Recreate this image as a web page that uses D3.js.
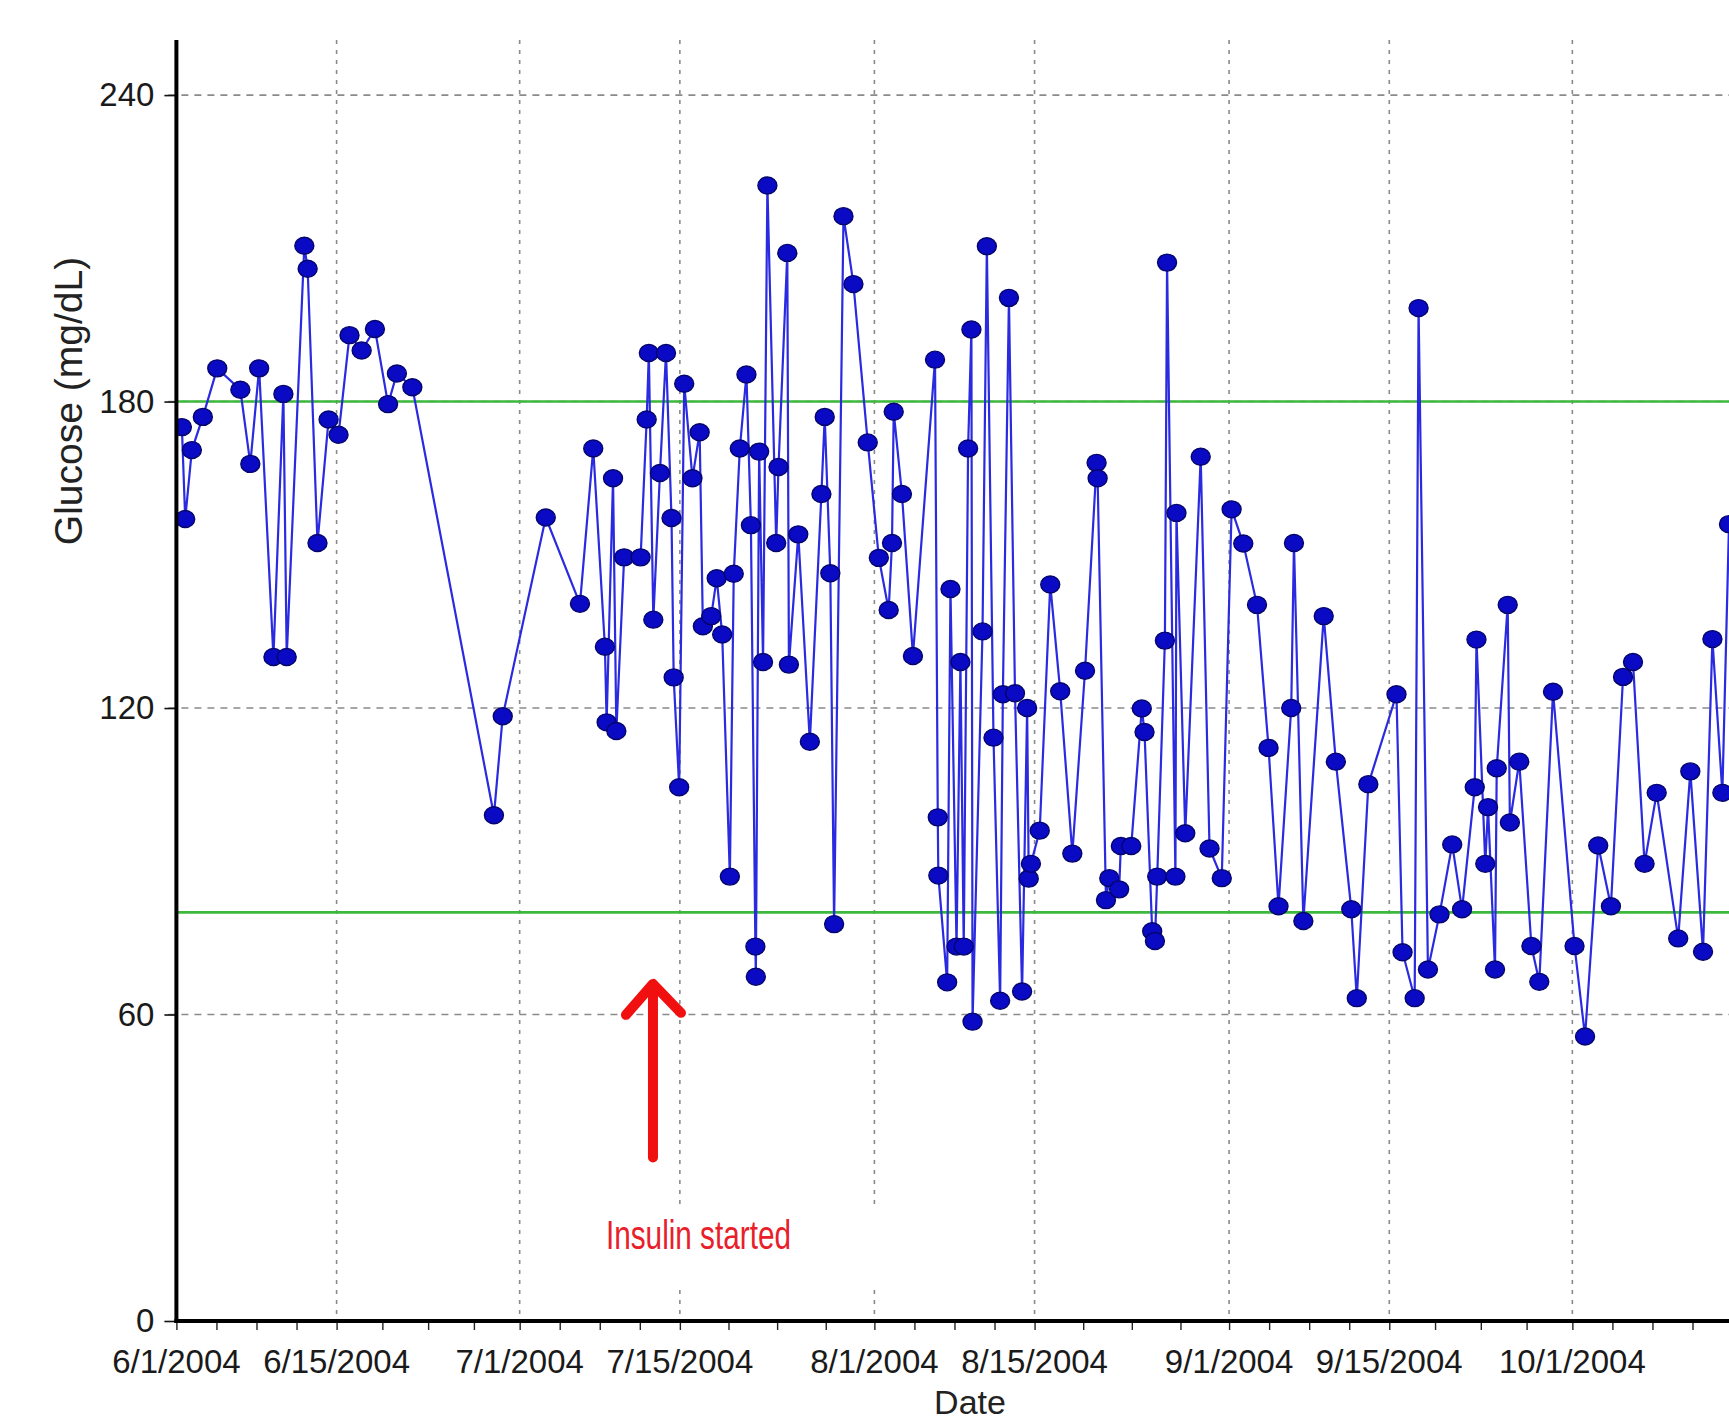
<!DOCTYPE html>
<html><head><meta charset="utf-8">
<script src="https://cdn.jsdelivr.net/npm/d3@7"></script>
<style>html,body{margin:0;padding:0;background:#fff;} svg{display:block;}</style>
</head><body>
<svg id="chart" width="1729" height="1423"></svg>
<script>
// ---- data ----
// reading times: days since 6/1/2004 00:00 (fractional = time of day)
const readingDay = [0.48,0.77,1.35,2.31,3.57,5.59,6.46,7.23,8.48,9.35,
9.64,11.18,11.47,12.33,13.3,14.17,15.13,16.19,17.35,18.5,
19.27,20.62,27.75,28.52,32.28,35.27,36.43,37.45,37.6,38.16,
38.45,39.13,40.57,41.1,41.29,41.68,42.26,42.79,43.27,43.46,
43.94,44.38,45.1,45.73,46.01,46.74,47.22,47.7,48.37,48.71,
49.24,49.82,50.21,50.6,50.64,50.93,51.27,51.65,52.42,52.62,
53.39,53.53,54.35,55.36,56.37,56.66,57.15,57.48,58.3,59.17,
60.42,61.39,62.25,62.54,62.69,63.41,64.37,66.3,66.54,66.59,
67.36,67.65,68.18,68.52,68.81,69.19,69.48,69.58,70.45,70.83,
71.41,71.99,72.23,72.76,73.29,73.91,74.35,74.49,74.68,75.45,
76.37,77.24,78.3,79.41,80.42,80.51,81.24,81.53,82.39,82.54,
83.45,84.37,84.61,85.28,85.52,85.72,86.39,86.58,87.31,87.4,
88.17,89.52,90.29,91.36,92.22,93.24,94.44,95.45,96.32,97.43,
97.67,98.49,100.27,101.33,102.68,103.16,104.17,106.63,107.16,108.22,
108.56,109.38,110.39,111.5,112.36,113.47,113.62,114.39,114.63,115.24,
115.39,116.35,116.54,117.36,118.42,119.11,120.31,122.19,123.11,124.26,
125.37,126.43,127.3,128.31,129.37,131.25,132.31,133.42,134.24,135.11,
135.69];
const glucose = [175,157,170.5,177,186.5,182.3,167.8,186.5,130,181.5,
130,210.5,206,152.3,176.5,173.5,193,190,194.2,179.5,
185.5,182.8,99,118.4,157.3,140.4,170.8,132,117.2,165,
115.5,149.5,149.5,176.5,189.5,137.3,166,189.5,157.2,126,
104.5,183.5,165,174,136,138,145.4,134.4,87,146.3,
170.8,185.3,155.8,73.3,67.4,170.2,129,222.3,152.3,167.2,
209.1,128.5,154,113.4,161.9,177,146.4,77.7,216.3,203,
172,149.4,139.2,152.3,178,161.9,130.2,188.2,98.6,87.2,
66.3,143.3,73.3,129,73.3,170.8,194.1,58.6,135,210.4,
114.2,62.7,122.7,200.3,122.9,64.5,120,86.6,89.5,96,
144.2,123.3,91.5,127.3,168,165,82.4,86.7,84.5,93,
93,119.9,115.3,76.3,74.4,87,133.2,207.2,87,158.2,
95.5,169.2,92.5,86.7,158.9,152.2,140.2,112.2,81.2,120,
152.3,78.3,138,109.5,80.6,63.2,105.1,122.7,72.2,63.2,
198.3,68.8,79.6,93.3,80.6,104.5,133.4,89.5,100.6,68.8,
108.2,140.2,97.6,109.5,73.4,66.4,123.2,73.4,55.7,93.1,
81.2,126.1,129,89.5,103.4,74.9,107.6,72.3,133.5,103.4,
156];
const xTickLabels = ["6/1/2004","6/15/2004","7/1/2004","7/15/2004","8/1/2004","8/15/2004","9/1/2004","9/15/2004","10/1/2004"];
const xTickDates = ["2004-06-01","2004-06-15","2004-07-01","2004-07-15","2004-08-01","2004-08-15","2004-09-01","2004-09-15","2004-10-01","2004-10-15"];
const xDomainDays = [0, 135.69];
const yTicks = [0, 60, 120, 180, 240];
const yDomain = [0, 250];
const targetRange = [80, 180];
const xTitle = "Date";
const yTitle = "Glucose (mg/dL)";
const annotationText = "Insulin started";
const annotationDay = 41.65;          // arrow position (7/12/2004)
const annotationArrow = [32, 66];     // glucose span of the arrow

// ---- setup ----
const DAY = 864e5;
const t0 = Date.UTC(2004, 5, 1);
const toDate = d => new Date(t0 + d * DAY);
const parse = s => new Date(s + "T00:00:00Z");

const svg = d3.select("#chart");
const L = 176.4, R = 1729, B = 1321, T = 44;
const x = d3.scaleUtc().domain(xDomainDays.map(toDate)).range([L, R]);
const y = d3.scaleLinear().domain(yDomain).range([B, T]);
const points = readingDay.map((d, i) => ({t: toDate(d), v: glucose[i]}));

svg.append("rect").attr("width", 1729).attr("height", 1423).attr("fill", "#fff");

const defs = svg.append("defs");
defs.append("clipPath").attr("id", "plotclip").append("rect")
  .attr("x", L).attr("y", 0).attr("width", R - L).attr("height", B);

// grid
const majorDates = xTickDates.map(parse);
const grid = svg.append("g");
grid.selectAll("line.h").data(yTicks.filter(v => v > 0)).join("line")
  .attr("x1", L - 8).attr("x2", R)
  .attr("y1", d => y(d)).attr("y2", d => y(d))
  .attr("stroke", "#8a8a8a").attr("stroke-width", 1.6).attr("stroke-dasharray", "7,6");
grid.selectAll("line.v").data(majorDates.slice(1).filter(d => x(d) <= R)).join("line")
  .attr("x1", d => x(d)).attr("x2", d => x(d))
  .attr("y1", 40).attr("y2", B)
  .attr("stroke", "#8a8a8a").attr("stroke-width", 1.6).attr("stroke-dasharray", "4,6");

// white label box behind annotation text
svg.append("rect")
  .attr("x", x(toDate(36.1))).attr("y", y(22.7))
  .attr("width", x(toDate(62.8)) - x(toDate(36.1)))
  .attr("height", y(6.5) - y(22.7))
  .attr("fill", "#fff");

// target range lines
svg.append("g").selectAll("line").data(targetRange).join("line")
  .attr("x1", L).attr("x2", R)
  .attr("y1", d => y(d)).attr("y2", d => y(d))
  .attr("stroke", "#3cb93c").attr("stroke-width", 2.6);

// data
const plot = svg.append("g").attr("clip-path", "url(#plotclip)");
plot.append("path").datum(points)
  .attr("d", d3.line().x(d => x(d.t)).y(d => y(d.v)))
  .attr("fill", "none").attr("stroke", "#2a2ae0").attr("stroke-width", 2.2);
plot.selectAll("ellipse").data(points).join("ellipse")
  .attr("cx", d => x(d.t)).attr("cy", d => y(d.v)).attr("rx", 9.5).attr("ry", 8.5)
  .attr("fill", "#0a0ac4").attr("stroke", "#05056a").attr("stroke-width", 1.4);

// axes
const font = "'Liberation Sans', Arial, Helvetica, sans-serif";
const yAxis = svg.append("g").attr("transform", `translate(${L},0)`)
  .call(d3.axisLeft(y).tickValues(yTicks).tickSize(12).tickPadding(10).tickFormat(d3.format("d")));
yAxis.select(".domain").remove();
yAxis.selectAll(".tick line").attr("stroke", "#111").attr("stroke-width", 1.6);
yAxis.selectAll(".tick text").attr("font-family", font).attr("font-size", 33).attr("fill", "#1a1a1a");

// minor + major ticks along x
const xt = [];
for (let i = 0; i < majorDates.length - 1; i++) {
  const a = +majorDates[i], b = +majorDates[i + 1];
  for (let q = 0; q < 4; q++) xt.push(new Date(a + (b - a) * q / 4));
}
const xAxis = svg.append("g").attr("transform", `translate(0,${B})`)
  .call(d3.axisBottom(x).tickValues(xt.filter(d => x(d) <= R + 0.5)).tickSize(9).tickFormat(""));
xAxis.select(".domain").remove();
xAxis.selectAll(".tick line").attr("stroke", "#222").attr("stroke-width", 1.4);

svg.append("g").selectAll("text").data(xTickLabels).join("text")
  .attr("x", (d, i) => x(majorDates[i])).attr("y", 1373)
  .attr("text-anchor", "middle").attr("font-family", font).attr("font-size", 33)
  .attr("fill", "#1a1a1a").text(d => d);

svg.append("line").attr("x1", L).attr("x2", L).attr("y1", 40).attr("y2", B + 2)
  .attr("stroke", "#000").attr("stroke-width", 4);
svg.append("line").attr("x1", L - 2).attr("x2", R).attr("y1", B).attr("y2", B)
  .attr("stroke", "#000").attr("stroke-width", 4);

// titles
svg.append("text").attr("x", 970).attr("y", 1414).attr("text-anchor", "middle")
  .attr("font-family", font).attr("font-size", 34).attr("fill", "#222").text(xTitle);
svg.append("text").attr("transform", "translate(68,401) rotate(-90)").attr("dy", "0.35em")
  .attr("text-anchor", "middle").attr("font-family", font).attr("font-size", 39)
  .attr("fill", "#222").text(yTitle);

// annotation
const ax = x(toDate(annotationDay));
const ya = y(annotationArrow[0]), yb = y(annotationArrow[1]);
const ann = svg.append("g").attr("stroke", "#f01010").attr("stroke-width", 10)
  .attr("stroke-linecap", "round").attr("stroke-linejoin", "round").attr("fill", "none");
ann.append("line").attr("x1", ax).attr("x2", ax).attr("y1", ya).attr("y2", yb + 4);
ann.append("polyline").attr("points", `${ax - 27},${yb + 31} ${ax},${yb} ${ax + 28},${yb + 29}`);
svg.append("text").attr("x", ax - 47).attr("y", y(14))
  .attr("font-family", "'Liberation Sans Narrow', 'Liberation Sans', Arial, sans-serif")
  .attr("font-size", 40).attr("fill", "#e8202a")
  .attr("textLength", 185).attr("lengthAdjust", "spacingAndGlyphs")
  .text(annotationText);
</script>
</body></html>
